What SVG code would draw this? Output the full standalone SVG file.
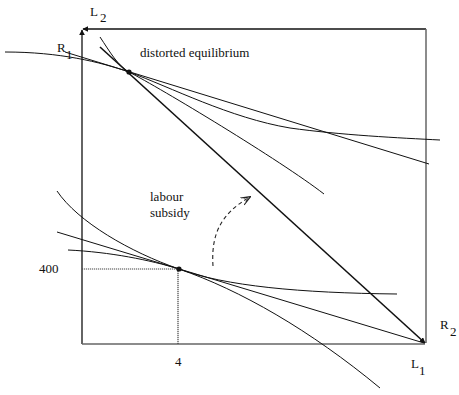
<svg xmlns="http://www.w3.org/2000/svg" width="459" height="395" viewBox="0 0 459 395">
<style>
text{font-family:"Liberation Serif","Times New Roman",serif;font-size:13px;fill:#111}
.ax{stroke:#111;stroke-width:1.3;fill:none}
.ax2{stroke:#666;stroke-width:1.5;fill:none}
.ln{stroke:#111;stroke-width:1;fill:none}
.thick{stroke:#111;stroke-width:1.6;fill:none}
.dot{stroke:#444;stroke-width:1.2;stroke-dasharray:1.2 0.8;fill:none}
.dash{stroke:#222;stroke-width:1.1;stroke-dasharray:4 3;fill:none}
</style>
<defs>
<marker id="ah" viewBox="0 0 10 10" refX="9" refY="5" markerWidth="6" markerHeight="6" orient="auto" markerUnits="userSpaceOnUse"><path d="M0,0 L10,5 L0,10 z" fill="#111"/></marker>
<marker id="oa" viewBox="0 0 10 10" refX="9" refY="5" markerWidth="10" markerHeight="10" orient="auto" markerUnits="userSpaceOnUse"><path d="M0,1 L10,5 L0,9 M3,3 L10,5 L3,7" fill="none" stroke="#222" stroke-width="1"/></marker>
</defs>
<g id="box">
<line class="ax" x1="82" y1="344" x2="82" y2="30" marker-end="url(#ah)"/>
<line class="ax" x1="426" y1="29" x2="83" y2="29" marker-end="url(#ah)"/>
<line class="ax2" x1="426" y1="29" x2="426" y2="343"/>
<line class="ax2" x1="82" y1="344" x2="425" y2="344"/>
</g>
<g id="connectors">
<line class="thick" x1="100" y1="47" x2="425" y2="343" marker-end="url(#ah)"/>
<line class="ln" x1="65" y1="52" x2="429" y2="164"/>
<path class="ln" d="M5,52 C60,52 100,62 129,72 C170,87 230,118 290,128 C340,135 400,138 440,140"/>
<path class="ln" d="M100,37 C110,52 118,66 129,72 C160,88 280,160 324,194"/>
<line class="ln" x1="57" y1="232" x2="424" y2="343"/>
<path class="ln" d="M57,191 C78,222 130,252 179,269 C240,290 310,330 380,388"/>
<path class="ln" d="M68,250 C110,252 150,260 179,269 C225,286 300,293 397,294"/>
<path class="dot" d="M82,269 H178 V344"/>
<path class="dash" d="M213,266 C211,235 220,214 250,197" marker-end="url(#oa)"/>
</g>
<g id="e1"><circle cx="129" cy="72" r="2.6" fill="#111"/><text x="140" y="57">distorted equilibrium</text></g>
<g id="e2"><circle cx="179" cy="269" r="2.6" fill="#111"/></g>
<g id="labels">
<text x="90" y="16" font-size="14">L</text><text x="100" y="22" font-size="14">2</text>
<text x="57" y="52" font-size="14">R</text><text x="66" y="59" font-size="14">1</text>
<text x="150" y="201">labour</text>
<text x="150" y="217">subsidy</text>
<text x="39" y="273">400</text>
<text x="175" y="366">4</text>
<text x="440" y="329" font-size="14">R</text><text x="450" y="336" font-size="14">2</text>
<text x="411" y="368" font-size="14">L</text><text x="419" y="375" font-size="14">1</text>
</g>
</svg>
